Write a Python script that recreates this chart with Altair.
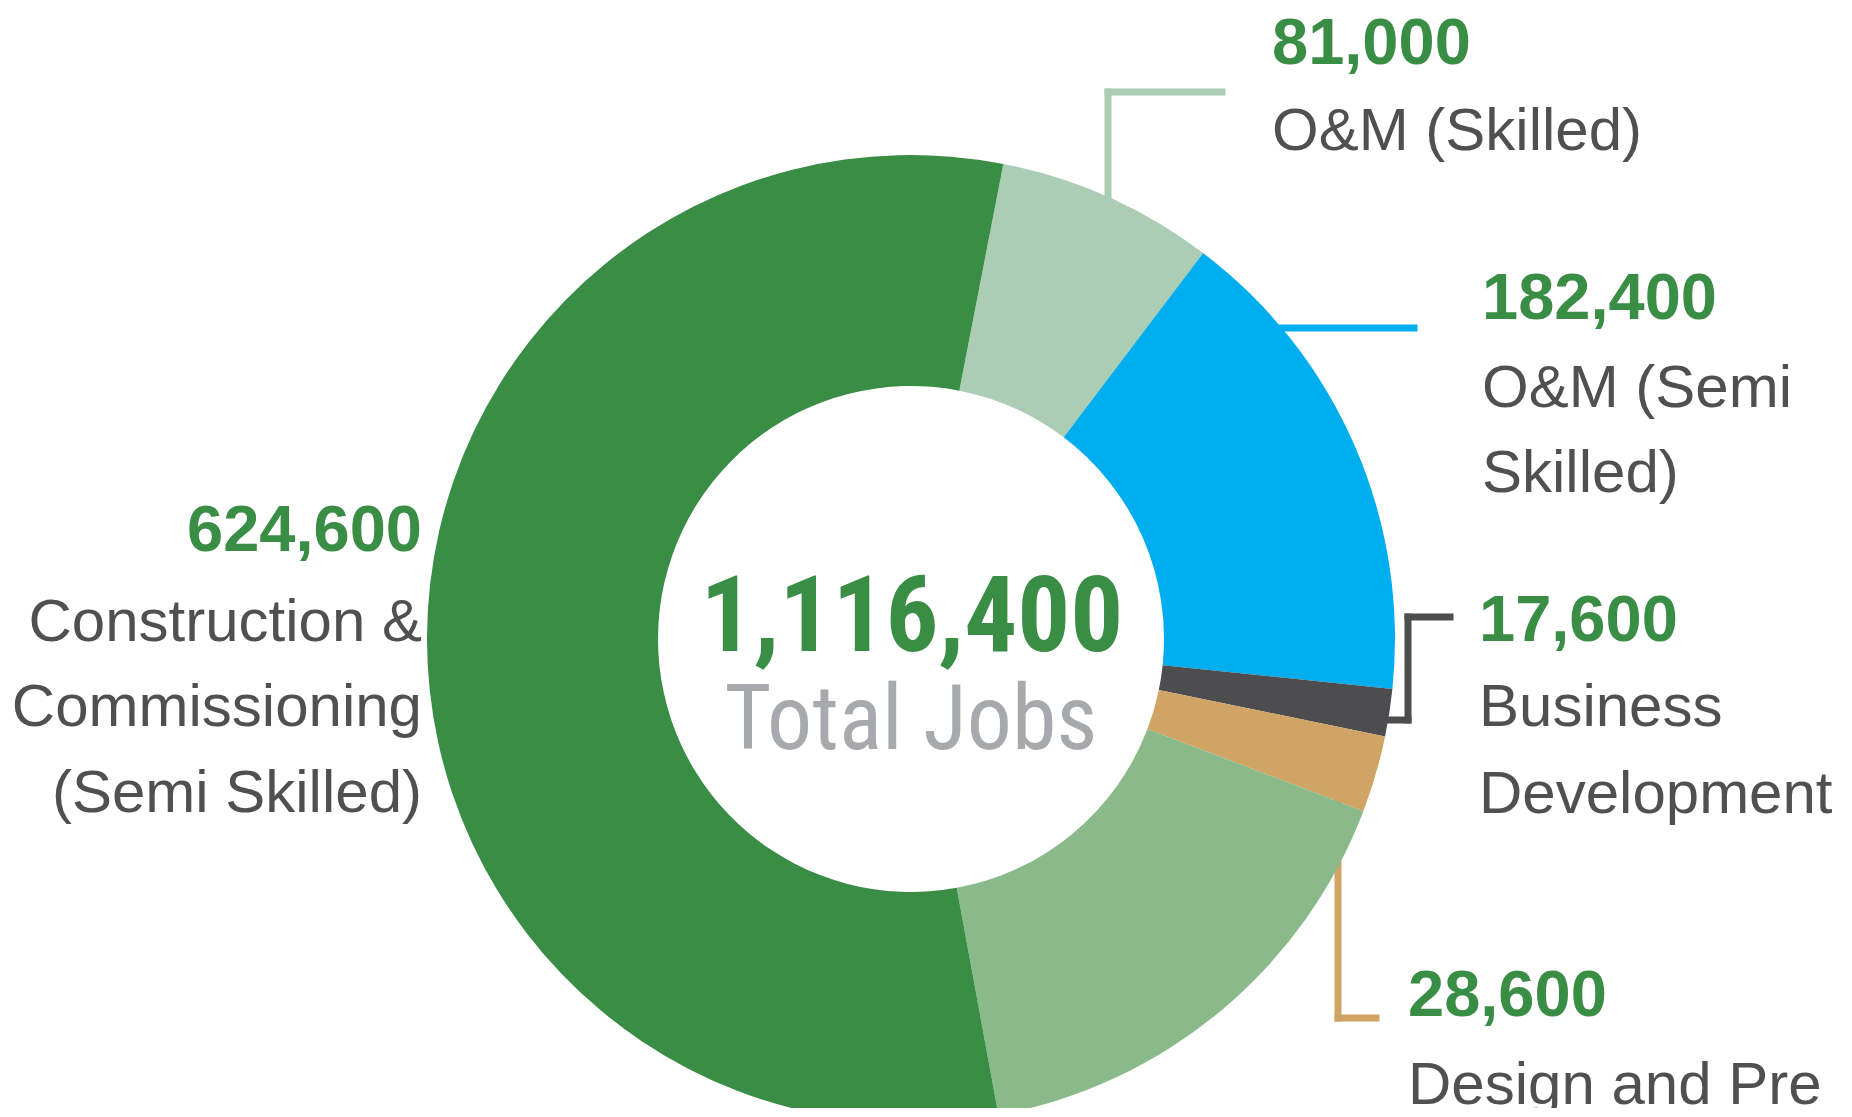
import math
import altair as alt
import pandas as pd

# ---------------- data ----------------
categories = [
    "O&M (Skilled)",
    "O&M (Semi Skilled)",
    "Business Development",
    "Design and Pre-Construction",
    "Construction & Commissioning (Skilled)",
    "Construction & Commissioning (Semi Skilled)",
]
jobs = [81000, 182400, 17600, 28600, 182200, 624600]
colors = ["#aacdb4", "#00aeef", "#4d4d4f", "#cfa464", "#8aba89", "#3a8d45"]

# visible label lines per category (the light-green slice has no visible label)
label_lines = [
    ["O&M (Skilled)"],
    ["O&M (Semi", "Skilled)"],
    ["Business", "Development"],
    ["Design and Pre"],
    [],
    ["Construction &", "Commissioning", "(Semi Skilled)"],
]

total_text = f"{sum(jobs):,}"
total_caption = "Total Jobs"

# ---------------- layout (pixels inside the view) ----------------
CX, CY = 903, 631
R_OUT, R_IN = 484, 253
START = math.radians(11)

# label anchor: x, number baseline, line baselines, align
label_layout = [
    (1264, 56, [142], "left"),
    (1474, 311, [399, 484], "left"),
    (1471, 633, [718, 805], "left"),
    (1400, 1008, [1096], "left"),
    None,
    (414, 543, [633, 718, 804], "right"),
]

# leader line pieces per category index: (x, y, x2, y2)
leader_layout = [
    (0, [(1100, 84, 1100, 240), (1100, 84, 1214, 84)]),
    (1, [(1240, 320, 1406, 320)]),
    (2, [(1340, 712, 1400, 712), (1400, 712, 1400, 609), (1400, 609, 1442, 609)]),
    (3, [(1330, 780, 1330, 1010), (1330, 1010, 1368, 1010)]),
]

# ---------------- tables ----------------
arc_df = pd.DataFrame({"category": categories, "jobs": jobs, "idx": list(range(len(jobs)))})

lead_rows = []
for i, pieces in leader_layout:
    for (x1, y1, x2, y2) in pieces:
        lead_rows.append({"x": x1, "y": y1, "x2": x2, "y2": y2, "color": colors[i]})
lead_df = pd.DataFrame(lead_rows)

num_rows, line_rows = [], []
for i, lay in enumerate(label_layout):
    if lay is None:
        continue
    x, ny, lys, al = lay
    num_rows.append({"text": f"{jobs[i]:,}", "px": x, "py": ny, "align": al})
    for t, ly in zip(label_lines[i], lys):
        line_rows.append({"text": t, "px": x, "py": ly, "align": al})
num_df = pd.DataFrame(num_rows)
line_df = pd.DataFrame(line_rows)

center_df = pd.DataFrame({"text": [total_text, total_caption], "px": [904, 903], "py": [643, 741],
                          "kind": ["num", "cap"]})

SANS = "Liberation Sans, Arial, Helvetica, sans-serif"
NARROW = "Liberation Sans Narrow, Arial Narrow, Roboto Condensed, sans-serif"

# ---------------- charts ----------------
leaders = alt.Chart(lead_df).mark_rule(strokeWidth=7, strokeCap="square").encode(
    x=alt.X("x:Q", scale=None, axis=None),
    x2="x2:Q",
    y=alt.Y("y:Q", scale=None, axis=None),
    y2="y2:Q",
    stroke=alt.Stroke("color:N", scale=None, legend=None),
)

arcs = alt.Chart(arc_df).mark_arc(radius=R_OUT, radius2=R_IN).encode(
    theta=alt.Theta("jobs:Q", stack=True, scale=alt.Scale(range=[START, START + 2 * math.pi])),
    color=alt.Color("category:N", scale=alt.Scale(domain=categories, range=colors), legend=None),
    order=alt.Order("idx:Q"),
    x=alt.value(CX),
    y=alt.value(CY),
)


def text_layer(df, align, **mk):
    return alt.Chart(df[df["align"] == align]).mark_text(align=align, baseline="alphabetic", **mk).encode(
        x=alt.X("px:Q", scale=None, axis=None),
        y=alt.Y("py:Q", scale=None, axis=None),
        text="text:N",
    )


nums_l = text_layer(num_df, "left", font=SANS, fontSize=65, fontWeight="bold", color="#3a8d45")
nums_r = text_layer(num_df, "right", font=SANS, fontSize=65, fontWeight="bold", color="#3a8d45")
lines_l = text_layer(line_df, "left", font=SANS, fontSize=60, color="#505052")
lines_r = text_layer(line_df, "right", font=SANS, fontSize=60, color="#505052")

center_num = alt.Chart(center_df[center_df["kind"] == "num"]).mark_text(
    align="center", baseline="alphabetic", font=NARROW, fontSize=105, fontWeight="bold", color="#3a8d45"
).encode(x=alt.X("px:Q", scale=None, axis=None), y=alt.Y("py:Q", scale=None, axis=None), text="text:N")

center_cap = alt.Chart(center_df[center_df["kind"] == "cap"]).mark_text(
    align="center", baseline="alphabetic", font=NARROW, fontSize=90, color="#a7a9ac"
).encode(x=alt.X("px:Q", scale=None, axis=None), y=alt.Y("py:Q", scale=None, axis=None), text="text:N")

chart = alt.layer(leaders, arcs, nums_l, nums_r, lines_l, lines_r, center_num, center_cap).properties(
    width=1836, height=1100, padding=0, autosize=alt.AutoSizeParams(type="none")
).configure_view(stroke=None)

chart.save("out.html", embed_options={"renderer": "svg", "actions": False})
